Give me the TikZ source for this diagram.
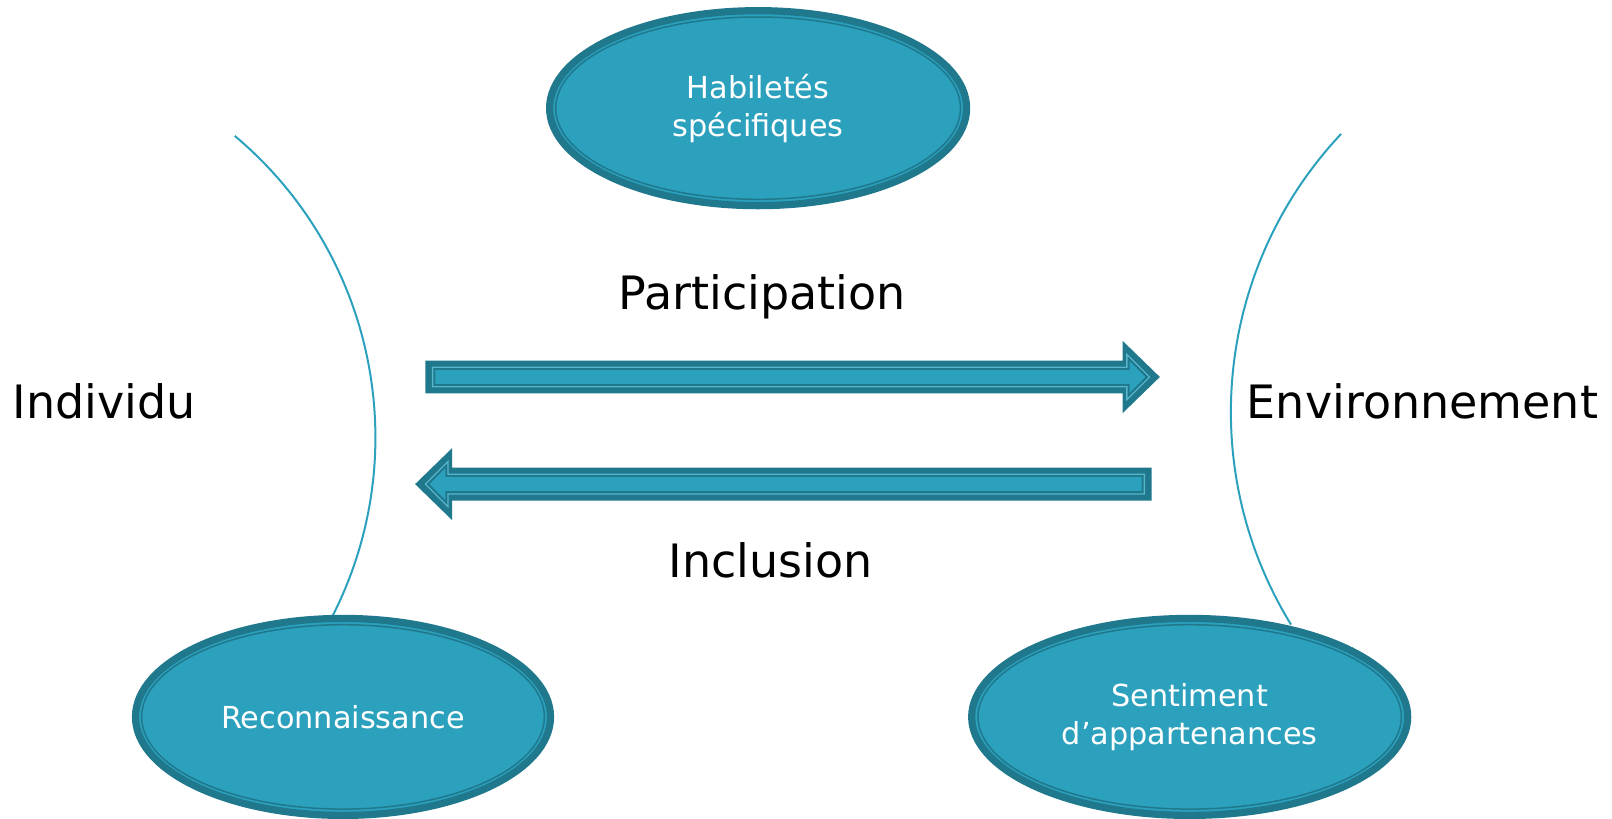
\documentclass[tikz,border=0pt]{standalone}
\usepackage{fontspec}
\setmainfont{DejaVu Sans}
\usetikzlibrary{shapes.geometric}
\definecolor{lt}{RGB}{44,161,190}
\definecolor{dk}{RGB}{31,120,140}
\newcommand\fatarrow[1]{%
  \fill[dk] (0,-16) -- ({#1-36},-16) -- ({#1-36},-35) -- (#1,0) -- ({#1-36},35) -- ({#1-36},16) -- (0,16) -- cycle;
  \draw[lt!80!white, line width=1.3] (7,-9.5) -- ({#1-32},-9.5) -- ({#1-32},-22) -- ({#1-10},0) -- ({#1-32},22) -- ({#1-32},9.5) -- (7,9.5) -- cycle;
  \filldraw[fill=lt, draw=dk, line width=1.2] (9,-7.5) -- ({#1-30},-7.5) -- ({#1-30},-17) -- ({#1-13},0) -- ({#1-30},17) -- ({#1-30},7.5) -- (9,7.5) -- cycle;
}
\begin{document}
\begin{tikzpicture}[x=1.03pt,y=-1.03pt,
  bubble/.style={ellipse, fill=lt, draw=dk, line width=7.2pt, inner sep=0pt,
    text=white, align=center, font=\fontsize{30.3}{38}\selectfont},
  biglabel/.style={anchor=base, inner sep=0pt, font=\fontsize{46}{54}\selectfont},
  curve/.style={draw=lt, line width=2pt}]
\useasboundingbox (0,0) rectangle (1565,795);

% side arcs
\draw[curve] (228,132) arc[start angle=-50, end angle=27, radius=382];
\draw[curve] (1302,130) arc[start angle=223.25, end angle=148.4, radius=394];

% ellipses
\node[bubble, minimum width=417pt, minimum height=195pt] (hab) at (736,105) {Habiletés\\spécifiques};
\draw[dk, line width=1.5pt] (hab.center) ellipse[x radius=196.5, y radius=88.5];
\node[bubble, minimum width=415pt, minimum height=197pt] (rec) at (333,696) {Reconnaissance};
\draw[dk, line width=1.5pt] (rec.center) ellipse[x radius=195.5, y radius=89.5];
\node[bubble, minimum width=436pt, minimum height=197pt] (sent) at (1155,696) {Sentiment\\d’appartenances};
\draw[dk, line width=1.5pt] (sent.center) ellipse[x radius=205.5, y radius=89.5];

% arrows
\begin{scope}[shift={(413,366)}]
  \fatarrow{713}
\end{scope}
\begin{scope}[shift={(1118,470)}, xscale=-1]
  \fatarrow{715}
\end{scope}

% labels
\node[biglabel] (part) at (740,300) {Participation};
\node[biglabel] (incl) at (748,561) {Inclusion};
\node[biglabel] (ind) at (101,406) {Individu};
\node[biglabel] (env) at (1381,406) {Environnement};
\end{tikzpicture}
\end{document}
